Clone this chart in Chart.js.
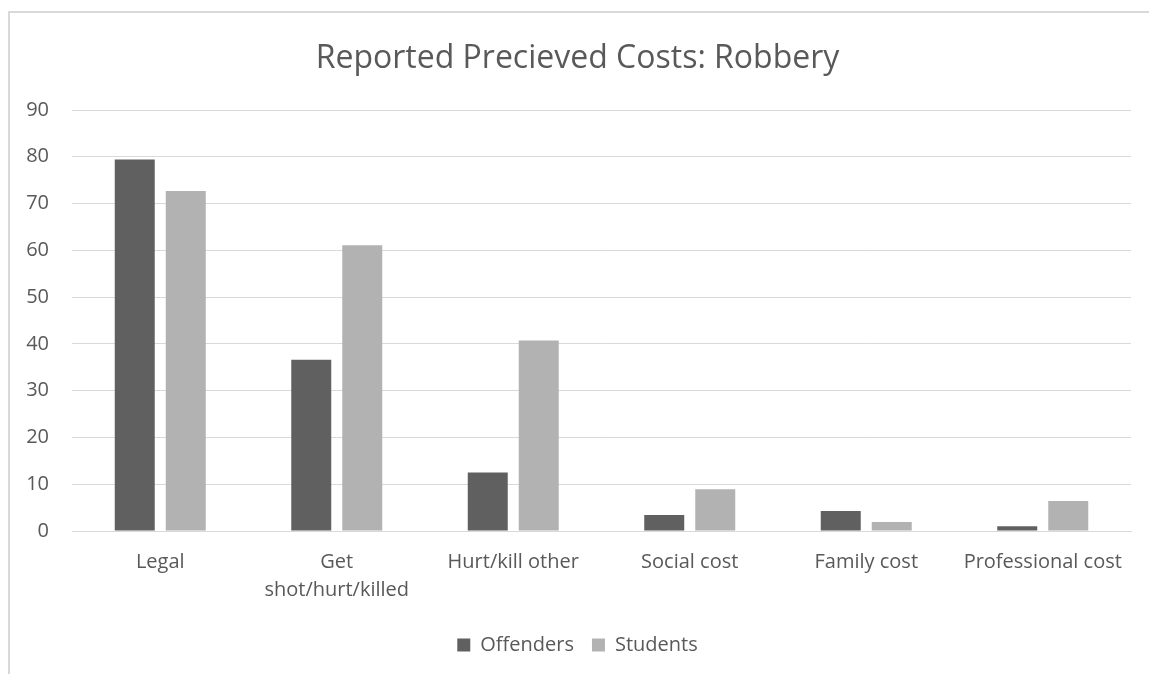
<!DOCTYPE html>
<html>
<head>
<meta charset="utf-8">
<script src="https://cdn.jsdelivr.net/npm/chart.js@4/dist/chart.umd.min.js"></script>
<style>
  html, body { margin: 0; padding: 0; background: #fff; }
  #wrap { position: absolute; left: 0; top: 0; width: 1149px; height: 674px; }
  #frame { position: absolute; left: 8px; top: 11px; width: 1160px; height: 700px;
           border-left: 2px solid #d9d9d9; border-top: 2px solid #d9d9d9; box-sizing: border-box; }
  canvas { position: absolute; left: 0; top: 0; }
</style>
</head>
<body>
<div id="wrap">
  <div id="frame"></div>
  <canvas id="c" width="1149" height="674"></canvas>
</div>
<script>
const categories = ["Legal", ["Get", "shot/hurt/killed"], "Hurt/kill other", "Social cost", "Family cost", "Professional cost"];
const offenders = [79.4, 36.6, 12.5, 3.4, 4.3, 1.0];
const students = [72.7, 61.1, 40.7, 8.9, 1.9, 6.4];
const yTicks = [0, 10, 20, 30, 40, 50, 60, 70, 80, 90];

const FONT = "'Open Sans', 'Liberation Sans', sans-serif";
const TXT = "#595959";

new Chart(document.getElementById('c'), {
  type: 'bar',
  data: {
    labels: categories,
    datasets: [
      { label: 'Offenders', data: offenders, backgroundColor: '#606060', borderWidth: 0,
        categoryPercentage: 0.578, barPercentage: 0.784 },
      { label: 'Students', data: students, backgroundColor: '#b2b2b2', borderWidth: 0,
        categoryPercentage: 0.578, barPercentage: 0.784 }
    ]
  },
  options: {
    responsive: false,
    animation: false,
    layout: { padding: { left: 24, right: 18, top: 0, bottom: 9 } },
    plugins: {
      title: {
        display: true,
        text: 'Reported Precieved Costs: Robbery',
        color: TXT,
        font: { family: FONT, size: 32, weight: 'normal', lineHeight: 1.2 },
        padding: { top: 40, bottom: 31.6 }
      },
      legend: {
        position: 'bottom',
        labels: {
          color: TXT,
          font: { family: FONT, size: 20 },
          boxWidth: 13, boxHeight: 13,
          padding: 18
        }
      },
      tooltip: { enabled: false }
    },
    scales: {
      x: {
        grid: { display: false, drawTicks: false },
        border: { display: true, color: '#d9d9d9', width: 1 },
        ticks: { color: TXT, font: { family: FONT, size: 20, lineHeight: 1.4 }, padding: 17, maxRotation: 0, autoSkip: false },
        afterFit: s => { s.height = 86; }
      },
      y: {
        min: 0, max: 90,
        afterBuildTicks: s => { s.ticks = yTicks.map(v => ({ value: v })); },
        grid: { color: '#d9d9d9', lineWidth: 1, drawTicks: false },
        border: { display: false },
        ticks: { color: TXT, font: { family: FONT, size: 20 }, padding: 23 },
        afterFit: s => { s.width = 48; }
      }
    }
  }
});
</script>
</body>
</html>
